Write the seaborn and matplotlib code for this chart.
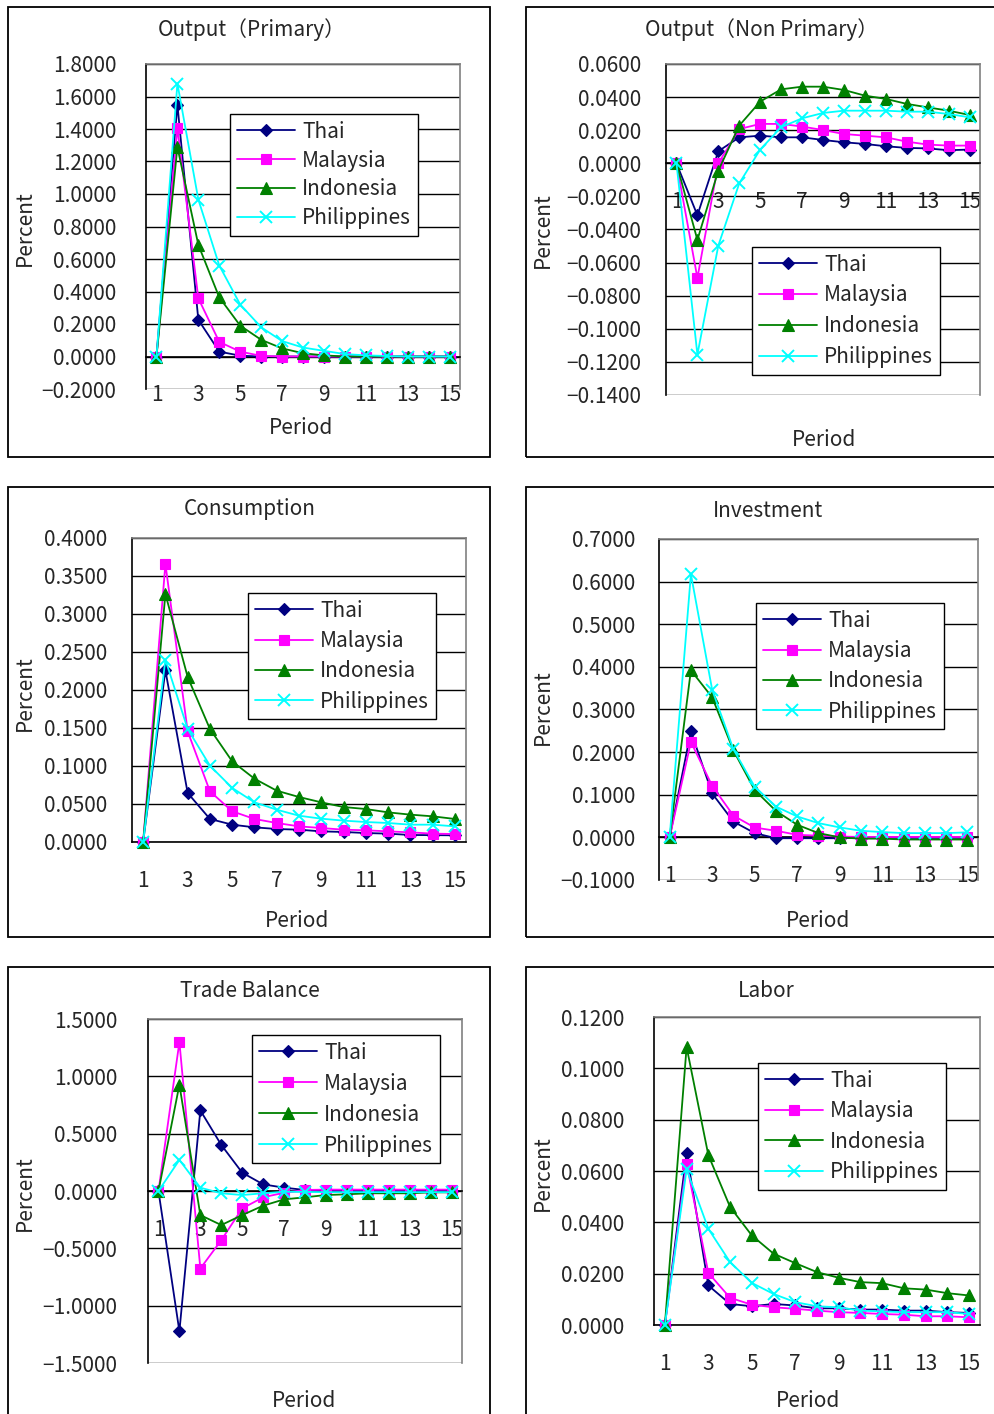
import numpy as np
import matplotlib
matplotlib.use("Agg")
import matplotlib.pyplot as plt
import matplotlib.ticker as mticker
from matplotlib.patches import Rectangle
from matplotlib.lines import Line2D
import seaborn as sns

# ---- data ----
periods = list(range(1, 16))
countries = ["Thai", "Malaysia", "Indonesia", "Philippines"]

prim_thai = [0, 1.55, 0.226, 0.03, 0.005, 0, 0, 0, 0, 0, 0, 0, 0, 0, 0]
prim_malaysia = [0, 1.406, 0.358, 0.09, 0.03, 0.004, 0, 0, 0, 0, 0, 0, 0, 0, 0]
prim_indonesia = [0, 1.289, 0.687, 0.364, 0.19, 0.103, 0.05, 0.02, 0.007, 0, 0, 0, 0, 0, 0]
prim_philippines = [0, 1.68, 0.966, 0.56, 0.32, 0.18, 0.095, 0.055, 0.035, 0.015, 0.007, 0.003, 0, 0, 0]

nonprim_thai = [0, -0.0314, 0.0073, 0.0157, 0.0167, 0.0157, 0.0157, 0.0141, 0.0127,
                0.0117, 0.0103, 0.0093, 0.009, 0.0079, 0.0083]
nonprim_malaysia = [0, -0.0693, 0, 0.0207, 0.0238, 0.0238, 0.0222, 0.0201, 0.0177,
                    0.0167, 0.0157, 0.0131, 0.0113, 0.0107, 0.0107]
nonprim_indonesia = [0, -0.0463, -0.0044, 0.0228, 0.0373, 0.0447, 0.0463, 0.0463, 0.0443,
                     0.0409, 0.0389, 0.0359, 0.0338, 0.0318, 0.0292]
nonprim_philippines = [0, -0.1156, -0.0497, -0.0121, 0.0083, 0.0218, 0.0272, 0.0304, 0.0318,
                       0.0318, 0.0318, 0.0312, 0.0312, 0.0298, 0.0278]

cons_thai = [0, 0.2259, 0.0645, 0.0303, 0.0228, 0.0193, 0.0171, 0.0162, 0.014,
             0.0132, 0.0118, 0.011, 0.0092, 0.009, 0.0088]
cons_malaysia = [0, 0.366, 0.1456, 0.0667, 0.0404, 0.0303, 0.025, 0.0206, 0.0184,
                 0.0162, 0.0154, 0.014, 0.0127, 0.011, 0.0105]
cons_indonesia = [0, 0.3263, 0.2171, 0.1487, 0.1061, 0.0833, 0.0675, 0.0592, 0.0522,
                  0.046, 0.0434, 0.039, 0.036, 0.0338, 0.0303]
cons_philippines = [0, 0.2399, 0.1487, 0.1004, 0.0711, 0.0522, 0.0425, 0.0346, 0.0307,
                    0.0281, 0.0263, 0.025, 0.0228, 0.0228, 0.0206]

inv_thai = [0, 0.249, 0.103, 0.037, 0.01, -0.002, -0.002, -0.002, -0.002,
            -0.001, -0.001, -0.001, -0.001, -0.001, -0.001]
inv_malaysia = [0, 0.224, 0.121, 0.051, 0.023, 0.0155, 0.006, 0.004, 0.002,
                0.001, 0.001, 0.001, 0.001, 0.001, 0.001]
inv_indonesia = [0, 0.392, 0.3285, 0.204, 0.111, 0.062, 0.0295, 0.01, 0,
                 -0.003, -0.003, -0.005, -0.005, -0.005, -0.005]
inv_philippines = [0, 0.6175, 0.3464, 0.2066, 0.1188, 0.0722, 0.049, 0.0334, 0.0233,
                   0.0155, 0.0124, 0.01, 0.01, 0.01, 0.0117]

trade_thai = [0, -1.224, 0.703, 0.402, 0.16, 0.058, 0.029, 0.009, 0.003,
              0, 0, 0, 0, 0, 0]
trade_malaysia = [0, 1.30, -0.676, -0.429, -0.152, -0.055, -0.015, 0.009, 0.012,
                  0.012, 0.012, 0.012, 0.012, 0.012, 0.012]
trade_indonesia = [0, 0.927, -0.21, -0.297, -0.21, -0.128, -0.073, -0.055, -0.035,
                   -0.029, -0.02, -0.02, -0.02, -0.012, -0.012]
trade_philippines = [0, 0.271, 0.029, -0.02, -0.035, -0.02, -0.006, -0.008, -0.01,
                     -0.01, -0.01, -0.01, -0.01, -0.01, -0.01]

labor_thai = [0, 0.0671, 0.0154, 0.0082, 0.0073, 0.0082, 0.0076, 0.0065, 0.0065,
              0.006, 0.006, 0.0056, 0.0056, 0.005, 0.0047]
labor_malaysia = [0, 0.0629, 0.0203, 0.0106, 0.0079, 0.0069, 0.0063, 0.0056, 0.005,
                  0.0047, 0.0043, 0.004, 0.0034, 0.0034, 0.003]
labor_indonesia = [0, 0.1083, 0.0662, 0.046, 0.0349, 0.0278, 0.0241, 0.0206, 0.0184,
                   0.0167, 0.0163, 0.0143, 0.0138, 0.0124, 0.0115]
labor_philippines = [0, 0.0606, 0.0375, 0.0245, 0.0164, 0.0121, 0.0089, 0.0073, 0.0069,
                     0.0056, 0.0053, 0.005, 0.005, 0.005, 0.0043]

# ---- styling ----
colors = {"Thai": "#000080", "Malaysia": "#FF00FF", "Indonesia": "#008000", "Philippines": "#00FFFF"}
markers = {"Thai": "D", "Malaysia": "s", "Indonesia": "^", "Philippines": "x"}
msizes = {"Thai": 6.5, "Malaysia": 7, "Indonesia": 8, "Philippines": 8}

W, H = 995, 1414

sns.set_style("white")
plt.rcParams["font.family"] = ["Noto Sans CJK JP", "DejaVu Sans"]
plt.rcParams["axes.unicode_minus"] = True

fig = plt.figure(figsize=(W / 100, H / 100), dpi=100, facecolor="white")


def fx(px):
    return px / W


def fy(py):
    return 1 - py / H


def fmt(v, pos):
    if abs(v) < 1e-12:
        v = 0.0
    return f"{v:.4f}".replace("-", "\u2212")


# panel layout in pixels: frame, axes box, title, ylabel, xlabel, legend top-left
panels = [
    dict(title="Output\uff08Primary\uff09", series=[prim_thai, prim_malaysia, prim_indonesia, prim_philippines],
         ylim=(-0.2, 1.8), step=0.2, frame=(8, 7, 490, 457), box=(146, 64, 460, 389),
         tpos=(252, 30), ypos=(25, 228), xpos=(301, 428), leg=(230, 114), ypad=28, lsp=0.33),
    dict(title="Output\uff08Non Primary\uff09", series=[nonprim_thai, nonprim_malaysia, nonprim_indonesia, nonprim_philippines],
         ylim=(-0.14, 0.06), step=0.02, frame=(526, 7, 1010, 457), box=(666, 64, 980, 395),
         tpos=(762, 30), ypos=(543, 230), xpos=(824, 440), leg=(752, 247), ypad=23, lsp=0.42),
    dict(title="Consumption", series=[cons_thai, cons_malaysia, cons_indonesia, cons_philippines],
         ylim=(0, 0.4), step=0.05, frame=(8, 487, 490, 937), box=(132, 538, 466, 842),
         tpos=(250, 509), ypos=(25, 693), xpos=(297, 921), leg=(248, 593), ypad=23, lsp=0.40),
    dict(title="Investment", series=[inv_thai, inv_malaysia, inv_indonesia, inv_philippines],
         ylim=(-0.1, 0.7), step=0.1, frame=(526, 487, 1010, 937), box=(659, 539, 978, 880),
         tpos=(768, 511), ypos=(543, 707), xpos=(818, 921), leg=(756, 603), ypad=22, lsp=0.40),
    dict(title="Trade Balance", series=[trade_thai, trade_malaysia, trade_indonesia, trade_philippines],
         ylim=(-1.5, 1.5), step=0.5, frame=(8, 967, 490, 1430), box=(148, 1019, 462, 1363),
         tpos=(250, 991), ypos=(25, 1193), xpos=(304, 1401), leg=(252, 1035), ypad=29, lsp=0.43),
    dict(title="Labor", series=[labor_thai, labor_malaysia, labor_indonesia, labor_philippines],
         ylim=(0, 0.12), step=0.02, frame=(526, 967, 1010, 1430), box=(654, 1017, 980, 1325),
         tpos=(766, 991), ypos=(543, 1173), xpos=(808, 1401), leg=(758, 1063), ypad=28, lsp=0.41),
]

FS = 15

for p in panels:
    x0, y0, x1, y1 = p["frame"]
    fig.add_artist(Rectangle((fx(x0), fy(y1)), (x1 - x0) / W, (y1 - y0) / H,
                             transform=fig.transFigure, fill=False, ec="black", lw=1.3))

    l, t, r, b = p["box"]
    ax = fig.add_axes([fx(l), fy(b), (r - l) / W, (b - t) / H])
    ax.set_facecolor("white")

    for name, vals in zip(countries, p["series"]):
        c = colors[name]
        sns.lineplot(x=periods, y=vals, ax=ax, color=c, marker=markers[name],
                     markersize=msizes[name], markerfacecolor=c, markeredgecolor=c,
                     markeredgewidth=1.4 if name == "Philippines" else 0.8,
                     linewidth=1.3, legend=False, clip_on=False, zorder=3)

    lo, hi = p["ylim"]
    ax.set_ylim(lo, hi)
    ax.set_xlim(0.5, 15.5)
    ax.set_yticks(np.arange(lo, hi + p["step"] / 2, p["step"]))
    ax.yaxis.set_major_formatter(mticker.FuncFormatter(fmt))
    ax.set_xticks(range(1, 16, 2))
    ax.set_xticks(np.arange(0.5, 16, 1), minor=True)
    ax.tick_params(axis="y", which="major", direction="out", length=4, width=1,
                   color="black", labelsize=FS, pad=(p["ypad"] - 4) / 1.389)
    ax.tick_params(axis="x", which="major", length=0, labelsize=FS, pad=20)
    ax.tick_params(axis="x", which="minor", direction="in", length=5, width=1, color="black")

    ax.grid(axis="y", color="black", lw=1)
    ax.grid(axis="x", visible=False)
    ax.set_axisbelow(True)
    ax.spines["bottom"].set_position(("data", 0))
    ax.spines["bottom"].set_color("black")
    ax.spines["bottom"].set_linewidth(1.2)
    ax.spines["left"].set_color("black")
    ax.spines["left"].set_linewidth(1.2)
    for s in ("top", "right"):
        ax.spines[s].set_color("#808080")
        ax.spines[s].set_linewidth(1.2)
    ax.set_xlabel("")
    ax.set_ylabel("")

    fig.text(fx(p["tpos"][0]), fy(p["tpos"][1]), p["title"], ha="center", va="center", fontsize=FS)
    fig.text(fx(p["ypos"][0]), fy(p["ypos"][1]), "Percent", ha="center", va="center",
             rotation=90, fontsize=FS)
    fig.text(fx(p["xpos"][0]), fy(p["xpos"][1]), "Period", ha="center", va="center", fontsize=FS)

    handles = [Line2D([0], [0], color=colors[n], marker=markers[n], markersize=msizes[n],
                      markerfacecolor=colors[n], markeredgecolor=colors[n],
                      markeredgewidth=1.4 if n == "Philippines" else 0.8, lw=1.3)
               for n in countries]
    leg = ax.legend(handles, countries, loc="upper left",
                    bbox_to_anchor=(fx(p["leg"][0]), fy(p["leg"][1])),
                    bbox_transform=fig.transFigure, frameon=True, fancybox=False,
                    framealpha=1, edgecolor="black", fontsize=FS, handlelength=2.8,
                    labelspacing=p["lsp"], borderpad=0.32, handletextpad=0.35, borderaxespad=0)
    leg.get_frame().set_linewidth(1.0)
    leg.set_zorder(5)

fig.savefig("out.png", dpi=100, facecolor="white")
